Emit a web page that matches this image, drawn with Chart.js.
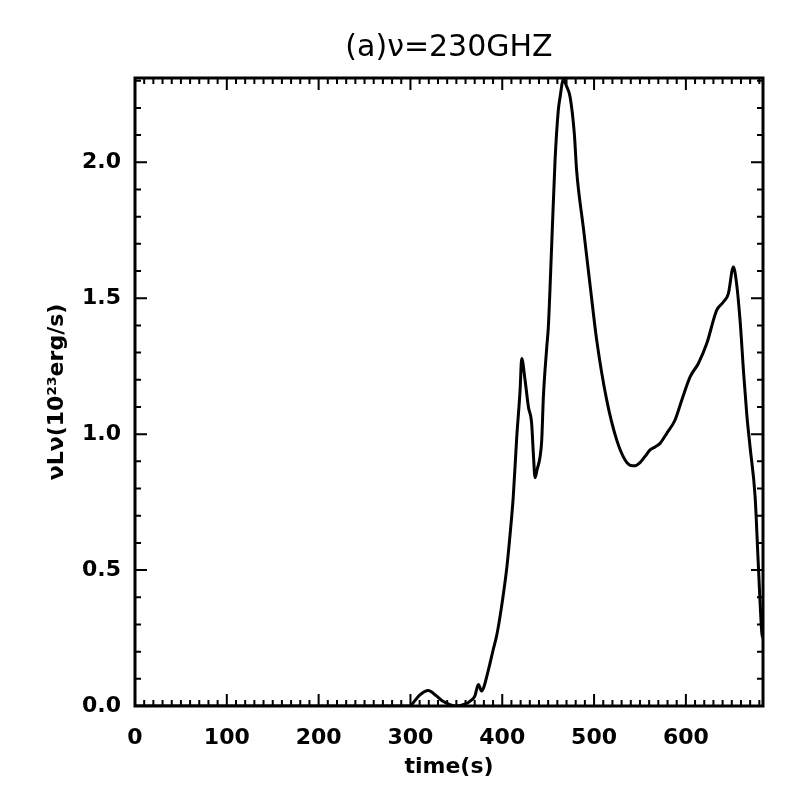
<!DOCTYPE html>
<html>
<head>
<meta charset="utf-8">
<script src="https://cdn.jsdelivr.net/npm/chart.js@4.4.0/dist/chart.umd.min.js"></script>
<style>
  html, body { margin: 0; padding: 0; background: #fff; }
  #wrap { width: 786px; height: 786px; }
</style>
</head>
<body>
<div id="wrap"><canvas id="lightCurve"></canvas></div>
<script>
// light curve at 230 GHz
var timeS = [0, 100, 200, 300, 303, 310, 319.5, 328, 335, 343, 350, 360, 365, 370, 374, 377.5, 380,
  385, 390, 394, 399, 405, 408.5, 412, 415.8, 419.4, 421.2, 424.8, 428.5, 432, 434, 435.7, 438,
  441.2, 443, 444.8, 448.5, 450.2, 453.9, 457.5, 461, 463, 466.6, 470, 473.9, 478.5, 481, 488.3,
  495.6, 502.9, 513.8, 524.7, 533.8, 540, 545, 550, 556, 561, 566, 571.9, 579.2, 588.2, 595.5,
  604.6, 613.6, 622.7, 633.6, 640.8, 646.3, 651.7, 655, 659, 663, 666.4, 670, 675.4, 679, 682.7, 684];
var nuLnu = [0, 0, 0, 0, 0.012, 0.04, 0.057, 0.038, 0.018, 0.005, 0, 0.008, 0.018, 0.035, 0.079, 0.055, 0.07,
  0.134, 0.205, 0.26, 0.36, 0.51, 0.63, 0.77, 0.99, 1.16, 1.278, 1.2, 1.1, 1.04, 0.92, 0.84, 0.87,
  0.917, 0.978, 1.137, 1.321, 1.394, 1.70, 2.006, 2.19, 2.24, 2.305, 2.28, 2.24, 2.105, 1.97, 1.76,
  1.55, 1.345, 1.125, 0.978, 0.905, 0.885, 0.884, 0.895, 0.92, 0.942, 0.952, 0.966, 1.003, 1.052, 1.125,
  1.211, 1.26, 1.333, 1.456, 1.486, 1.517, 1.615, 1.56, 1.419, 1.22, 1.07, 0.95, 0.77, 0.513, 0.269, 0.25];

var xTicks = [0, 100, 200, 300, 400, 500, 600];
var yTicks = [0, 0.5, 1.0, 1.5, 2.0];
var xMax = 684, yMax = 2.31;

var points = timeS.map(function (t, i) { return {x: t, y: nuLnu[i]}; });

// IDL style frame: box on all four sides, ticks pointing inward
var frameTicks = {
  id: 'frameTicks',
  afterDatasetsDraw: function (chart) {
    var ctx = chart.ctx, a = chart.chartArea;
    var x = chart.scales.x, y = chart.scales.y;
    ctx.save();
    ctx.strokeStyle = '#000';
    ctx.lineWidth = 2;
    ctx.beginPath();
    for (var t = 0; t <= xMax; t += 10) {
      var px = x.getPixelForValue(t);
      var len = (t % 100 === 0) ? 12 : 6;
      ctx.moveTo(px, a.bottom); ctx.lineTo(px, a.bottom - len);
      ctx.moveTo(px, a.top); ctx.lineTo(px, a.top + len);
    }
    for (var k = 0; k * 0.1 <= yMax; k++) {
      var py = y.getPixelForValue(k * 0.1);
      var ylen = (k % 5 === 0) ? 12 : 6;
      ctx.moveTo(a.left, py); ctx.lineTo(a.left + ylen, py);
      ctx.moveTo(a.right, py); ctx.lineTo(a.right - ylen, py);
    }
    ctx.stroke();
    ctx.lineWidth = 3;
    ctx.strokeRect(a.left, a.top, a.right - a.left, a.bottom - a.top);
    ctx.restore();
  }
};

var tickFont = {family: 'DejaVu Sans', size: 22, weight: 'bold'};

new Chart(document.getElementById('lightCurve'), {
  type: 'line',
  data: {
    datasets: [{
      data: points,
      borderColor: '#000',
      borderWidth: 3,
      pointRadius: 0,
      fill: false,
      cubicInterpolationMode: 'monotone'
    }]
  },
  options: {
    responsive: true,
    maintainAspectRatio: false,
    animation: false,
    layout: {padding: {left: 0, right: 23, top: 0, bottom: 0}},
    plugins: {
      legend: {display: false},
      tooltip: {enabled: false},
      title: {
        display: true,
        fullSize: false,
        text: '(a)\u03bd=230GHZ',
        color: '#000',
        font: {family: 'DejaVu Sans', size: 30, weight: 'normal'},
        padding: {top: 30, bottom: 12}
      }
    },
    scales: {
      x: {
        type: 'linear',
        min: 0,
        max: xMax,
        grid: {display: false},
        border: {display: false},
        afterBuildTicks: function (s) { s.ticks = xTicks.map(function (v) { return {value: v}; }); },
        afterFit: function (s) { s.height = 80; },
        ticks: {color: '#000', font: tickFont, padding: 11, maxRotation: 0},
        title: {
          display: true,
          text: 'time(s)',
          color: '#000',
          font: tickFont,
          padding: {top: 0, bottom: 6}
        }
      },
      y: {
        type: 'linear',
        min: 0,
        max: yMax,
        grid: {display: false},
        border: {display: false},
        afterBuildTicks: function (s) { s.ticks = yTicks.map(function (v) { return {value: v}; }); },
        afterFit: function (s) { s.width = 135; },
        ticks: {
          color: '#000', font: tickFont, padding: 6,
          callback: function (v) { return v.toFixed(1); }
        },
        title: {
          display: true,
          text: '\u03bdL\u03bd(10\u00b2\u00b3erg/s)',
          color: '#000',
          font: tickFont,
          padding: {top: 44, bottom: 0}
        }
      }
    }
  },
  plugins: [frameTicks]
});
</script>
</body>
</html>
